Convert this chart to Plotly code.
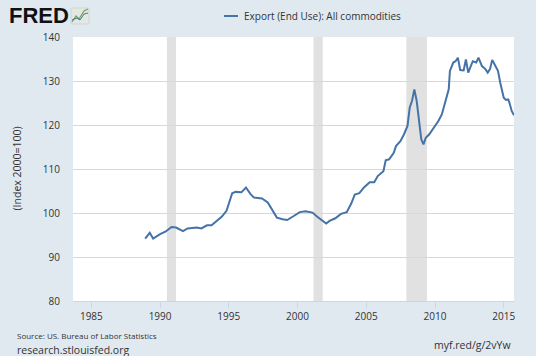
import plotly.graph_objects as go

dates = ["1988-12", "1989-04", "1989-07", "1990-01", "1990-06", "1990-11", "1991-03", "1991-09",
         "1992-01", "1992-09", "1993-01", "1993-06", "1993-10", "1994-02", "1994-07", "1994-11",
         "1995-02", "1995-04", "1995-07", "1995-12", "1996-04", "1996-08", "1996-11", "1997-06",
         "1997-11", "1998-03", "1998-07", "1998-12", "1999-04", "1999-09", "2000-03", "2000-08",
         "2001-02", "2001-06", "2001-11", "2002-02", "2002-05", "2002-10", "2003-03", "2003-08",
         "2003-12", "2004-03", "2004-07", "2004-11", "2005-04", "2005-08", "2005-11", "2006-04",
         "2006-06", "2006-09", "2007-01", "2007-03", "2007-07", "2007-10", "2008-01", "2008-03",
         "2008-05", "2008-07", "2008-09", "2008-11", "2009-01", "2009-03", "2009-05", "2009-08",
         "2010-01", "2010-04", "2010-07", "2010-10", "2011-01", "2011-02", "2011-05", "2011-07",
         "2011-09", "2011-11", "2012-02", "2012-04", "2012-06", "2012-10", "2013-01", "2013-03",
         "2013-06", "2013-09", "2013-11", "2014-01", "2014-03", "2014-05", "2014-08", "2014-10",
         "2015-01", "2015-03", "2015-05", "2015-06", "2015-08", "2015-10"]
values = [94.2, 95.5, 94.2, 95.2, 95.8, 96.8, 96.7, 95.9,
          96.5, 96.7, 96.5, 97.2, 97.2, 98.2, 99.2, 100.5,
          102.7, 104.5, 104.8, 104.7, 105.8, 104.3, 103.5, 103.3,
          102.4, 100.8, 98.95, 98.6, 98.4, 99.2, 100.2, 100.4,
          100.1, 99.2, 98.2, 97.6, 98.2, 98.8, 99.8, 100.2,
          102.2, 104.2, 104.5, 105.8, 107.0, 107.0, 108.4, 109.5,
          112.0, 112.2, 113.7, 115.2, 116.4, 117.9, 119.8, 124.0,
          125.5, 128.1, 125.5, 121.3, 116.75, 115.6, 117.1, 117.9,
          119.8, 120.9, 122.4, 125.1, 128.1, 132.3, 134.2, 134.5,
          135.3, 132.5, 132.4, 134.9, 131.9, 134.5, 134.2, 135.3,
          133.4, 132.7, 131.9, 132.7, 134.8, 133.8, 132.3, 129.6,
          126.2, 125.7, 125.8, 125.1, 123.2, 122.2]

recession_starts = ["1990-07-01", "2001-03-01", "2007-12-01"]
recession_ends = ["1991-03-01", "2001-11-01", "2009-06-01"]

tick_years = ["1985", "1990", "1995", "2000", "2005", "2010", "2015"]

series_name = "Export (End Use): All commodities"
y_title = "(Index 2000=100)"

FONT = "Open Sans, Noto Sans, sans-serif"
TXT = "#333333"
LINE = "#4572a7"

# plot area in pixels: x 73..514, y 37..301
L, R, T, B = 73, 22, 37, 55
W, H = 536, 356
PW, PH = W - L - R, H - T - B


def px(x):
    return (x - L) / PW


def py(y):
    return (H - B - y) / PH


fig = go.Figure()
fig.add_trace(go.Scatter(x=dates, y=values, mode="lines", name=series_name,
                         line=dict(color=LINE, width=2), showlegend=False))

for s, e in zip(recession_starts, recession_ends):
    fig.add_shape(type="rect", xref="x", yref="y domain", x0=s, x1=e, y0=0, y1=1,
                  fillcolor="#e1e1e1", line_width=0, layer="below")

fig.update_layout(
    width=W, height=H,
    margin=dict(l=L, r=R, t=T, b=B),
    paper_bgcolor="#e1e9f0", plot_bgcolor="#ffffff",
    font=dict(family=FONT, size=10, color=TXT),
    showlegend=False,
    xaxis=dict(type="date", range=["1983-09-01", "2015-10-01"],
               tickvals=[y + "-01-01" for y in tick_years], ticktext=tick_years,
               showgrid=False, showline=True, linecolor="#ccd6eb", linewidth=1,
               ticks="outside", ticklen=6, tickcolor="#ccd6eb",
               tickfont=dict(size=10, color=TXT), zeroline=False, automargin=False),
    yaxis=dict(range=[80, 140], dtick=10, showgrid=True, gridcolor="#d8d8d8", gridwidth=1,
               zeroline=False, ticks="", tickfont=dict(size=10, color=TXT),
               ticklabelstandoff=12, automargin=False),
)

# legend (manual)
fig.add_shape(type="line", xref="paper", yref="paper", x0=px(224), x1=px(238), y0=py(16), y1=py(16),
              line=dict(color=LINE, width=2))
fig.add_annotation(text=series_name, xref="paper", yref="paper", x=px(242), y=py(16),
                   xanchor="left", yanchor="middle", showarrow=False,
                   font=dict(size=10, color=TXT))

# y-axis title
fig.add_annotation(text=y_title, xref="paper", yref="paper", x=px(16.5), y=py(168),
                   xanchor="center", yanchor="middle", textangle=-90, showarrow=False,
                   font=dict(size=10.5, color=TXT))

# FRED logo text
fig.add_annotation(text="<b>FRED</b>", xref="paper", yref="paper", x=px(7), y=py(16),
                   xanchor="left", yanchor="middle", showarrow=False,
                   font=dict(family="Liberation Sans, Arial, sans-serif", size=22, color="#111111"))
# small logo icon
fig.add_shape(type="rect", xref="paper", yref="paper", x0=px(71), x1=px(89), y0=py(24), y1=py(8),
              fillcolor="#e4e8e4", line=dict(color="#cfd6cf", width=1))
fig.add_shape(type="path", xref="paper", yref="paper",
              path=f"M {px(72)} {py(22)} L {px(76)} {py(16)} L {px(79)} {py(19)} L {px(84)} {py(11)} L {px(88)} {py(9)}",
              line=dict(color="#6aa84f", width=1.2))
fig.add_shape(type="path", xref="paper", yref="paper",
              path=f"M {px(72)} {py(20)} L {px(77)} {py(18)} L {px(80)} {py(20)} L {px(84)} {py(14)} L {px(88)} {py(13)}",
              line=dict(color=LINE, width=1.0))

# footer texts
fig.add_annotation(text="Source: US. Bureau of Labor Statistics", xref="paper", yref="paper",
                   x=px(15), y=py(335), xanchor="left", yanchor="middle", showarrow=False,
                   font=dict(size=8, color=TXT))
fig.add_annotation(text="research.stlouisfed.org", xref="paper", yref="paper",
                   x=px(15), y=py(349.5), xanchor="left", yanchor="middle", showarrow=False,
                   font=dict(size=10.5, color=TXT))
fig.add_annotation(text="myf.red/g/2vYw", xref="paper", yref="paper",
                   x=px(513), y=py(345), xanchor="right", yanchor="middle", showarrow=False,
                   font=dict(size=10.5, color=TXT))

fig.write_html("out.html", config={"displayModeBar": False, "staticPlot": True},
               post_script="document.body.style.margin='0';document.body.style.overflow='hidden';")
